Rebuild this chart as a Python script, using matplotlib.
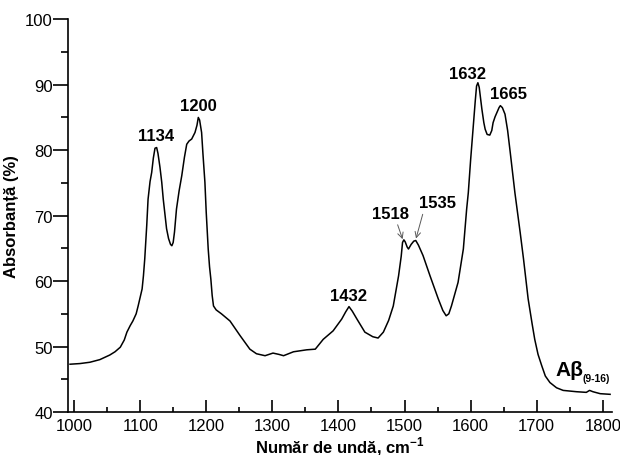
import matplotlib
matplotlib.use('Agg')
import matplotlib.pyplot as plt
from matplotlib.ticker import MultipleLocator

plt.rcParams['font.family'] = ['Liberation Sans', 'DejaVu Sans']
plt.rcParams['mathtext.fontset'] = 'custom'
plt.rcParams['mathtext.rm'] = 'Liberation Sans'
plt.rcParams['mathtext.bf'] = 'Liberation Sans:bold'

# spectrum
wavenumber = [994, 1009, 1024, 1039, 1054, 1062, 1070, 1076, 1080, 1085, 1089, 1094,
              1097, 1100, 1103, 1105, 1107, 1110, 1112, 1115, 1117.5, 1120, 1122.5,
              1125, 1127, 1130, 1132.7, 1135, 1137.7, 1140, 1143, 1146, 1148, 1150,
              1152, 1155, 1159, 1163, 1167, 1170.5, 1174, 1178, 1183, 1186, 1188, 1190,
              1193, 1195, 1198, 1200, 1203, 1205, 1207, 1209, 1211, 1215, 1223,
              1236, 1251, 1266, 1276, 1289, 1301, 1310, 1317, 1332, 1352, 1365, 1377,
              1392, 1405, 1411, 1416, 1421, 1428, 1440, 1452, 1460, 1468, 1476, 1483,
              1491, 1495, 1497, 1499, 1501, 1504, 1506, 1510, 1514, 1517, 1521, 1528,
              1538.6, 1551, 1558, 1563, 1567, 1571, 1581, 1589, 1594, 1596.5, 1600,
              1604, 1607, 1609, 1611, 1613, 1615, 1617, 1620, 1622, 1625, 1629, 1632,
              1634, 1637, 1640, 1643, 1645, 1648, 1652, 1656, 1660, 1667, 1675, 1680,
              1687, 1693, 1697, 1702, 1707.5, 1713, 1720, 1730, 1740, 1760, 1775,
              1780, 1785, 1796, 1811]
absorbance = [47.3, 47.4, 47.6, 48.0, 48.7, 49.2, 49.9, 51.0, 52.2, 53.2, 53.9, 55.0,
              56.2, 57.5, 58.8, 60.8, 63.4, 68.5, 72.5, 75.2, 76.6, 78.8, 80.3,
              80.4, 79.5, 77.4, 75.1, 72.5, 70.0, 68.0, 66.5, 65.6, 65.4, 65.9,
              67.5, 71.0, 73.8, 76.1, 78.9, 80.9, 81.4, 81.7, 82.7, 83.8, 85.0, 84.6,
              82.7, 79.5, 75.1, 70.5, 64.9, 62.2, 60.3, 57.8, 56.2, 55.6, 55.0,
              53.9, 51.7, 49.6, 48.9, 48.6, 49.0, 48.8, 48.6, 49.2, 49.5, 49.6, 51.1,
              52.4, 54.2, 55.3, 56.1, 55.4, 54.2, 52.2, 51.5, 51.3, 52.2, 54.0, 56.2,
              60.8, 63.8, 65.9, 66.3, 66.0, 65.2, 64.9, 65.6, 66.1, 66.2, 65.5, 63.9,
              60.8, 57.3, 55.5, 54.7, 55.0, 56.2, 59.8, 64.9, 71.0, 73.5, 78.5,
              83.7, 87.5, 89.8, 90.3, 89.6, 88.0, 86.3, 84.2, 83.2, 82.4, 82.3, 83.0,
              84.2, 85.1, 85.8, 86.5, 86.8, 86.5, 85.5, 83.0, 79.6, 73.5, 67.4, 63.4,
              57.3, 53.5, 51.1, 48.8, 47.1, 45.5, 44.5, 43.7, 43.3, 43.1, 43.0,
              43.3, 43.1, 42.8, 42.7]

peak_labels = ['1134', '1200', '1432', '1518', '1535', '1632', '1665']
label_x = [1124, 1187.5, 1414.5, 1478.8, 1549.4, 1596, 1657]
label_y = [82.3, 86.8, 57.8, 70.4, 72.0, 91.7, 88.7]

fig = plt.figure(figsize=(6.2, 4.56), dpi=100)
ax = fig.add_axes([0.1097, 0.0943, 0.8774, 0.8613])

ax.plot(wavenumber, absorbance, color='black', lw=1.1)

ax.set_xlim(990.9, 1813.9)
ax.set_ylim(40, 100)
ax.xaxis.set_major_locator(MultipleLocator(100))
ax.xaxis.set_minor_locator(MultipleLocator(50))
ax.yaxis.set_major_locator(MultipleLocator(10))
ax.yaxis.set_minor_locator(MultipleLocator(5))

ax.spines['top'].set_visible(False)
ax.spines['right'].set_visible(False)
for s in ['left', 'bottom']:
    ax.spines[s].set_linewidth(1.2)

ax.tick_params(axis='x', which='major', direction='in', length=8.5, width=1.2,
               labelsize=12, pad=4)
ax.tick_params(axis='x', which='minor', direction='in', length=3.8, width=1.2)
ax.tick_params(axis='y', which='major', direction='out', length=11, width=1.2,
               labelsize=12, pad=0)
ax.tick_params(axis='y', which='minor', direction='out', length=4.8, width=1.2)

ax.set_xlabel(r'Număr de undă, cm$^{\mathbf{-1}}$', fontsize=12, fontweight='bold',
              labelpad=1)
ax.set_ylabel('Absorbanță (%)', fontsize=12, fontweight='bold', labelpad=4)

for t, x, y in zip(peak_labels, label_x, label_y):
    ax.text(x, y, t, ha='center', va='center', fontsize=12, fontweight='bold')

arrow = dict(arrowstyle='->', color='0.35', lw=0.7, shrinkA=0, shrinkB=0)
ax.annotate('', xy=(1497.1, 66.4), xytext=(1489.6, 68.6), arrowprops=arrow)
ax.annotate('', xy=(1517.4, 66.5), xytext=(1527.5, 70.2), arrowprops=arrow)

ax.text(1729, 45.65, 'Aβ', ha='left', va='baseline', fontsize=15, fontweight='bold')
ax.text(1770, 44.8, '(9-16)', ha='left', va='baseline', fontsize=7.5, fontweight='bold')

fig.savefig('out.png', dpi=100)
